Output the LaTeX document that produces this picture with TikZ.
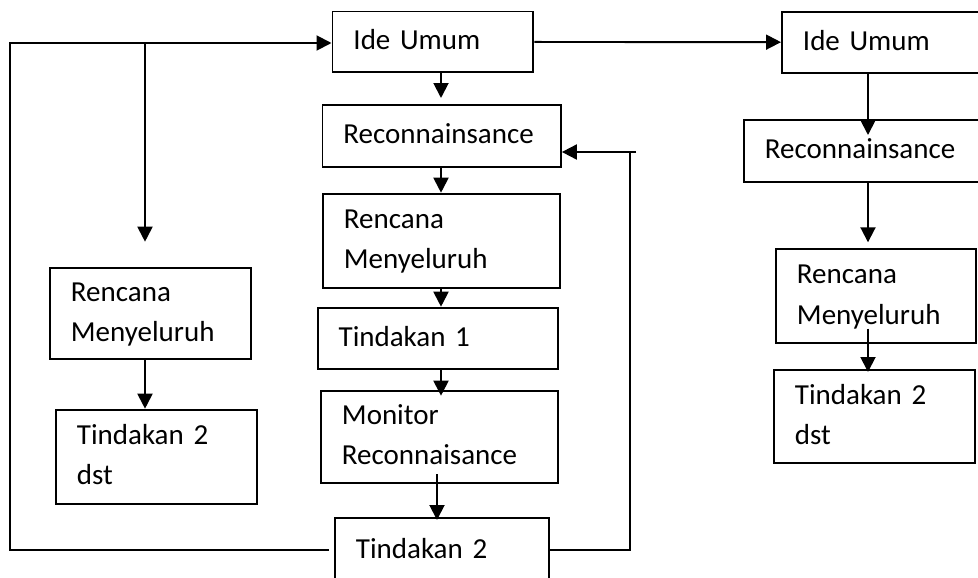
\documentclass[tikz,border=0pt]{standalone}
\usepackage{fontspec}
\setmainfont{Carlito}
\usetikzlibrary{arrows.meta,calc}
\tikzset{
  >={Triangle[length=0.3cm,width=0.3cm]},
  kotak/.style 2 args={draw, anchor=north west, align=left,
    inner xsep=0.42cm, inner ysep=0pt, text width=#1, minimum height=#2,
    font=\fontsize{16.5}{22.8}\selectfont,
    execute at begin node=\strut, execute at end node=\strut},
}

\begin{document}
\begin{tikzpicture}[x=0.02cm,y=-0.02cm,line width=1.1pt]
        \useasboundingbox (0,0) rectangle (978,578);
        \clip (0,0) rectangle (978,578);
        \node[kotak={3.18cm}{1.22cm}] (ideA) at (331.5,10.5) {Ide Umum};
        \node[kotak={3.93cm}{1.24cm}] (recA) at (321.5,104) {Reconnainsance};
        \node[kotak={3.90cm}{1.88cm}] (renA) at (322,192.7) {Rencana\\Menyeluruh};
        \node[kotak={3.97cm}{1.23cm}] (tinA) at (316.7,306.7) {Tindakan 1};
        \node[kotak={3.90cm}{1.85cm}] (monA) at (320,389.7) {Monitor\\Reconnaisance};
        \node[kotak={3.44cm}{1.30cm}] (tinB) at (334,517) {Tindakan 2};
        \node[kotak={3.18cm}{1.82cm}] (renL) at (49,266.7) {Rencana\\Menyeluruh};
        \node[kotak={3.18cm}{1.89cm}] (tinL) at (55,408.7) {Tindakan 2\\dst};
        \node[kotak={3.34cm}{1.22cm}] (ideB) at (781,10.7) {Ide Umum};
        \node[kotak={4.10cm}{1.24cm}] (recB) at (743,119) {Reconnainsance};
        \node[kotak={3.17cm}{1.87cm}] (renB) at (775,248.3) {Rencana\\Menyeluruh};
        \node[kotak={3.18cm}{1.86cm}] (tinC) at (773,369) {Tindakan 2\\dst};
        \coordinate (kolA) at (441,0);
        \coordinate (kolM) at (437,0);
        \coordinate (kolB) at (868,0);
        \coordinate (sudut) at (10,43);
        \coordinate (cabang) at (145,43);
        \coordinate (balik) at (630,152);
        \draw[->] (ideA.south -| kolA) -- ($(recA.north -| kolA)+(0,-6)$);
        \draw[->] (recA.south -| kolA) -- (renA.north -| kolA);
        \draw[->] (renA.south -| kolA) -- (tinA.north -| kolA);
        \draw[->] (tinA.south -| kolA) -- ($(monA.north -| kolA)+(0,6)$);
        \draw[->] ($(monA.south -| kolM)+(0,-10)$) -- ($(tinB.north -| kolM)+(0,3)$);
        \draw[->] ($(tinB.west)+(-5,0)$) -| (sudut) -- (ideA.west |- sudut);
        \draw[->] (cabang) -- ($(cabang |- renL.north)+(0,-25)$);
        \draw[->] (renL.south -| cabang) -- (tinL.north -| cabang);
        \draw (tinB.east) -| (balik);
        \draw[->] ($(balik)+(6,0)$) -- (recA.east |- balik);
        \draw[->] (ideA.east) -- (ideB.west);
        \draw[->] (ideB.south -| kolB) -- ($(recB.north -| kolB)+(0,16)$);
        \draw[->] (recB.south -| kolB) -- ($(renB.north -| kolB)+(0,-6)$);
        \draw[->] ($(renB.south -| kolB)+(0,-15)$) -- ($(tinC.north -| kolB)+(0,3)$);
      \end{tikzpicture}
\end{document}
